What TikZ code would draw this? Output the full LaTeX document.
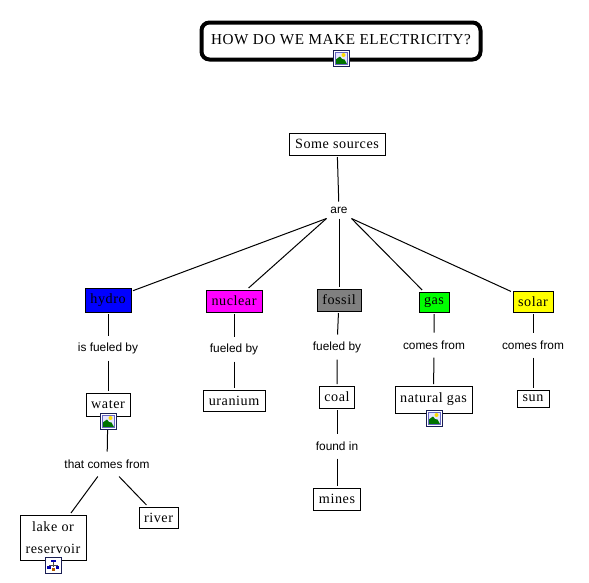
\documentclass[tikz,border=0pt]{standalone}
\usepackage{fontspec}
\setmainfont{Liberation Serif}
\newfontfamily\linkfont{Liberation Sans}
\newfontfamily\boxfont[LetterSpace=4]{Liberation Serif}
\definecolor{hydroblue}{RGB}{0,0,255}
\definecolor{nuclearpink}{RGB}{255,0,255}
\definecolor{fossilgrey}{RGB}{128,128,128}
\definecolor{gasgreen}{RGB}{0,255,0}
\definecolor{solaryellow}{RGB}{255,255,0}
\definecolor{iconnavy}{RGB}{25,30,85}
\tikzset{
  photo/.pic={
    \fill[white] (-8,-8) rectangle (8,8);
    \fill[blue!10] (-6,-6) rectangle (6,6);
    \fill[yellow!80!orange] (2.5,-3) circle (2);
    \fill[green!45!black] (-6,6) -- (-6,2) -- (-1,-1.5) -- (1,1) -- (3.5,1.5) -- (6,6) -- cycle;
    \draw[iconnavy,line width=0.75pt] (-8,-8) rectangle (8,8);
    \draw[black!40!blue!60,line width=0.3pt] (-6,-6) rectangle (6,6);
  },
  chart/.pic={
    \fill[white] (-8,-8) rectangle (8,8);
    \draw[iconnavy,line width=0.75pt] (-8,-8) rectangle (8,8);
    \draw[black!70,line width=0.4pt] (0,-3) -- (0,0) (-4,2) -- (-4,0) -- (4,0) -- (4,2) (0,0) -- (0,2);
    \fill[blue!70!black] (-2.5,-5.5) rectangle (2.5,-3);
    \fill[blue!70!black] (-6,1) rectangle (-2.5,4);
    \fill[orange!70!black] (-1.5,2.5) rectangle (1.5,5.5);
    \fill[blue!70!black] (2.5,1) rectangle (6,4);
  }
}
\begin{document}
\begin{tikzpicture}[x=0.75pt,y=-0.75pt,line width=0.75pt,
    size/.style 2 args={minimum width=#1*0.75pt,minimum height=#2*0.75pt},
    concept/.style={draw,fill=white,inner sep=0pt,outer sep=1.5pt,font=\boxfont\fontsize{10.6pt}{16pt}\selectfont},
    link/.style={inner sep=0pt,size={30}{24},font=\linkfont\fontsize{8.9pt}{10pt}\selectfont}]
  \useasboundingbox (0,0) rectangle (589,582);
  % the question on top
  \node[concept,line width=3pt,rounded corners=6pt,size={279}{37},font=\boxfont\fontsize{11.4pt}{13pt}\selectfont] (question) at (341,41) {\raisebox{3pt}{HOW DO WE MAKE ELECTRICITY?}};
  \node[concept,size={96}{22}] (sources) at (337,144) {Some sources};
  \node[link,size={24}{16}] (are) at (339,210) {are};
  % the five kinds
  \node[concept,fill=hydroblue,size={46}{24}] (hydro) at (108,300) {hydro};
  \node[concept,fill=nuclearpink,size={56}{22}] (nuclear) at (234,301) {nuclear};
  \node[concept,fill=fossilgrey,size={44}{22}] (fossil) at (339,300) {fossil};
  \node[concept,fill=gasgreen,size={30}{20}] (gas) at (434,302) {gas};
  \node[concept,fill=solaryellow,size={40}{21}] (solar) at (533,301.5) {solar};
  % what they run on
  \node[link] (hydrolink) at (108,348) {is fueled by};
  \node[link] (nuclearlink) at (234,349) {fueled by};
  \node[link] (fossillink) at (337,347) {fueled by};
  \node[link] (gaslink) at (434,345) {comes from};
  \node[link] (solarlink) at (533,345) {comes from};
  \node[concept,size={44}{23}] (water) at (108,404.5) {water};
  \node[concept,size={62}{21}] (uranium) at (234,400.5) {uranium};
  \node[concept,size={35}{22}] (coal) at (337,397) {coal};
  \node[concept,size={77}{27}] (natgas) at (433.5,399.5) {natural gas};
  \node[concept,size={32}{17}] (sun) at (533,398.5) {sun};
  \node[link] (waterlink) at (107,464) {that comes from};
  \node[link] (coallink) at (337,446) {found in};
  \node[concept,size={47}{22}] (mines) at (337,499) {mines};
  \node[concept,size={66}{45},align=center] (lake) at (53,537.5) {lake or\\reservoir};
  \node[concept,size={39}{21}] (river) at (158.5,517.5) {river};
  % connectors
  \draw (sources) -- (are);
  \draw (are.south west) -- (hydro);
  \draw (are.south west) -- (nuclear);
  \draw (are) -- (fossil);
  \draw (are.south east) -- (gas);
  \draw (are.south east) -- (solar);
  \foreach \a/\b/\c in {hydro/hydrolink/water,nuclear/nuclearlink/uranium,fossil/fossillink/coal,gas/gaslink/natgas,solar/solarlink/sun,coal/coallink/mines}{
    \draw (\a) -- (\b) (\b) -- (\c);
  }
  \draw (water) -- (waterlink);
  \draw (waterlink) -- (lake);
  \draw (waterlink) -- (river);
  % the resource icons
  \pic at (341,58) {photo};
  \pic at (108,421) {photo};
  \pic at (434,418) {photo};
  \pic at (53,565) {chart};
\end{tikzpicture}
\end{document}
